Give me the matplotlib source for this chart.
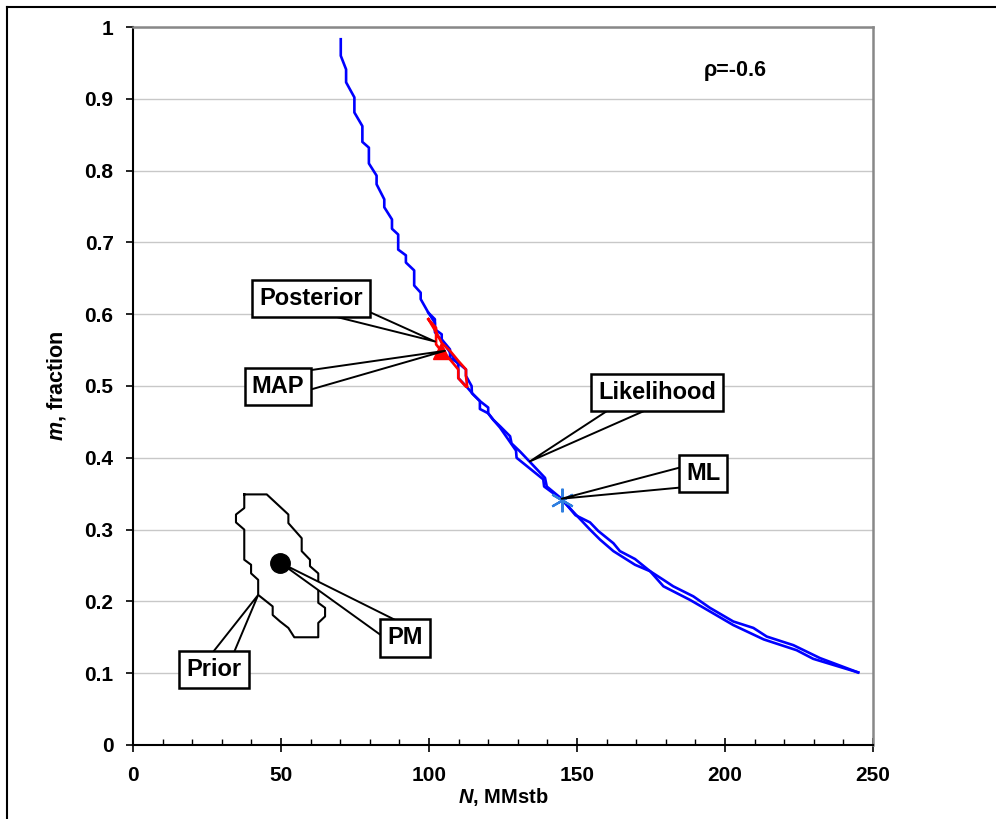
import numpy as np
import matplotlib.pyplot as plt
from matplotlib.lines import Line2D

plt.rcParams['font.family'] = ['Liberation Sans', 'DejaVu Sans']
plt.rcParams['font.weight'] = 'bold'
plt.rcParams['mathtext.fontset'] = 'custom'
plt.rcParams['mathtext.it'] = 'Liberation Sans:bold:italic'
plt.rcParams['mathtext.rm'] = 'Liberation Sans:bold'

# likelihood contour, upper/right side
lik_up_N = [70.2, 70.2, 72.0, 72.0, 74.8, 74.8, 77.5, 77.5, 79.7, 79.7, 82.3, 82.3,
            84.9, 84.9, 87.5, 87.5, 89.6, 89.6, 92.2, 92.2, 95.0, 95.0, 97.2, 97.2,
            99.8, 102.0, 102.0, 104.3, 104.3, 107.1, 107.1, 109.9, 112.5, 112.5,
            114.4, 114.5, 117.2, 120.0, 120.0, 121.7, 124.0, 127.4, 127.9, 130.7,
            139.2, 139.8, 144.8, 149.5, 154.4, 157.2, 162.3, 164.5, 169.6, 174.7,
            179.2, 182.5, 189.3, 194.9, 202.8, 209.6, 214.1, 223.1, 227.6, 232.1, 245.0]
lik_up_m = [0.983, 0.960, 0.941, 0.923, 0.902, 0.881, 0.862, 0.840, 0.832, 0.810, 0.793, 0.781,
            0.760, 0.749, 0.732, 0.719, 0.711, 0.690, 0.682, 0.672, 0.661, 0.640, 0.630, 0.621,
            0.602, 0.593, 0.579, 0.572, 0.565, 0.551, 0.539, 0.532, 0.523, 0.514,
            0.500, 0.490, 0.479, 0.470, 0.462, 0.453, 0.444, 0.430, 0.420, 0.409,
            0.372, 0.360, 0.343, 0.320, 0.310, 0.298, 0.281, 0.270, 0.259, 0.242,
            0.230, 0.221, 0.207, 0.191, 0.172, 0.163, 0.151, 0.139, 0.130, 0.121, 0.101]

# likelihood contour, lower/left side
lik_lo_N = [99.8, 102.0, 102.0, 104.3, 107.1, 109.9, 109.9, 112.5, 115.0, 117.2, 117.2,
            120.0, 121.7, 124.0, 129.4, 129.6, 138.6, 138.9, 144.8, 150.5, 154.4, 157.8,
            162.3, 169.6, 174.7, 179.2, 188.2, 194.9, 202.8, 213.1, 224.2, 229.8, 245.0]
lik_lo_m = [0.602, 0.588, 0.575, 0.563, 0.547, 0.530, 0.511, 0.500, 0.488, 0.479, 0.468,
            0.462, 0.453, 0.442, 0.410, 0.400, 0.370, 0.360, 0.342, 0.317, 0.300, 0.286,
            0.270, 0.251, 0.242, 0.221, 0.202, 0.186, 0.167, 0.147, 0.132, 0.120, 0.101]

# posterior contour (closed)
post_N = [99.8, 102.4, 102.4, 104.3, 107.1, 109.9, 109.9, 112.5, 112.9, 112.5, 112.5,
          109.9, 107.1, 104.3, 102.4, 99.8]
post_m = [0.593, 0.581, 0.558, 0.548, 0.537, 0.523, 0.511, 0.499, 0.499, 0.514, 0.523,
          0.535, 0.549, 0.560, 0.575, 0.593]

# prior contour (closed)
prior_N = [37.6, 45.2, 52.5, 52.5, 57.0, 57.0, 59.8, 59.8, 62.6, 62.6, 64.9, 64.9, 62.6,
           62.6, 54.5, 52.5, 49.7, 47.2, 47.2, 42.3, 42.3, 39.9, 39.9, 37.6, 37.6, 34.8,
           34.8, 37.6, 37.6]
prior_m = [0.349, 0.349, 0.321, 0.309, 0.288, 0.270, 0.258, 0.249, 0.239, 0.198, 0.191,
           0.179, 0.170, 0.150, 0.150, 0.163, 0.172, 0.181, 0.193, 0.209, 0.230, 0.239,
           0.251, 0.258, 0.300, 0.310, 0.321, 0.330, 0.349]

map_pt = (104.0, 0.549)
ml_pt = (145.0, 0.341)
pm_pt = (49.7, 0.254)

fig = plt.figure(figsize=(9.96, 8.19), dpi=100)
ax = fig.add_axes([0.1335, 0.0904, 0.743, 0.8766])

ax.plot(lik_up_N, lik_up_m, color='#0000ff', lw=1.9, zorder=3)
ax.plot(lik_lo_N, lik_lo_m, color='#0000ff', lw=1.9, zorder=3)
ax.plot(post_N, post_m, color='#ff0000', lw=1.9, zorder=4)
ax.plot(prior_N, prior_m, color='black', lw=1.5, zorder=3)
ax.plot(*map_pt, marker='^', color='#ff0000', ms=12, zorder=5)
ax.plot(*ml_pt, marker=(6, 2, 0), color='#2f7fe0', ms=17, mew=1.6, zorder=5)
ax.plot(*pm_pt, marker='o', color='black', ms=14, zorder=5)

ax.set_xlim(0, 250)
ax.set_ylim(0, 1)
ax.set_xticks(np.arange(0, 251, 50))
ax.set_xticks(np.arange(0, 251, 10), minor=True)
ax.set_yticks(np.arange(0, 1.01, 0.1))
ax.set_yticklabels(['0'] + ['%.1f' % v for v in np.arange(0.1, 0.95, 0.1)] + ['1'])
ax.yaxis.grid(True, color='#c8c8c8', lw=1.0)
ax.set_axisbelow(True)
ax.tick_params(axis='x', which='major', direction='inout', length=10, width=1.2,
               labelsize=15, pad=10)
ax.tick_params(axis='x', which='minor', direction='in', length=4, width=1.0)
ax.tick_params(axis='y', which='major', direction='out', length=5, width=1.2,
               labelsize=15, pad=9)
for s in ['left', 'bottom']:
    ax.spines[s].set_linewidth(1.5)
for s in ['top', 'right']:
    ax.spines[s].set_color('#888888')
    ax.spines[s].set_linewidth(1.8)

ax.set_xlabel(r'$N$, MMstb', fontsize=14.5, fontweight='bold', labelpad=1)
ax.set_ylabel(r'$m$, fraction', fontsize=15.5, fontweight='bold', labelpad=12)

ax.text(203.5, 0.94, r'ρ=-0.6', fontsize=15.5, fontweight='bold', ha='center', va='center')

bbox = dict(boxstyle='square,pad=0.3', fc='white', ec='black', lw=1.8)
labels = [('Posterior', (60.1, 0.622), (102.0, 0.562)),
          ('MAP', (49.0, 0.499), (105.4, 0.549)),
          ('Likelihood', (177.0, 0.491), (134.1, 0.395)),
          ('ML', (192.6, 0.378), (144.8, 0.343)),
          ('PM', (91.9, 0.149), (49.7, 0.254)),
          ('Prior', (27.4, 0.105), (42.3, 0.209))]
for txt, tpos, tip in labels:
    ax.annotate(txt, xy=tip, xytext=tpos, fontsize=17, fontweight='bold',
                ha='center', va='center', bbox=bbox, zorder=6,
                arrowprops=dict(arrowstyle='wedge,tail_width=1.0', fc='white',
                                ec='black', lw=1.4, shrinkA=0, shrinkB=0,
                                patchA=None, relpos=(0.5, 0.5)))

# outer frame lines (left and top)
fig.add_artist(Line2D([0.007, 0.007], [0.0, 0.9915], color='black', lw=1.5))
fig.add_artist(Line2D([0.007, 1.0], [0.9915, 0.9915], color='black', lw=1.5))

fig.savefig('out.png', dpi=100)
